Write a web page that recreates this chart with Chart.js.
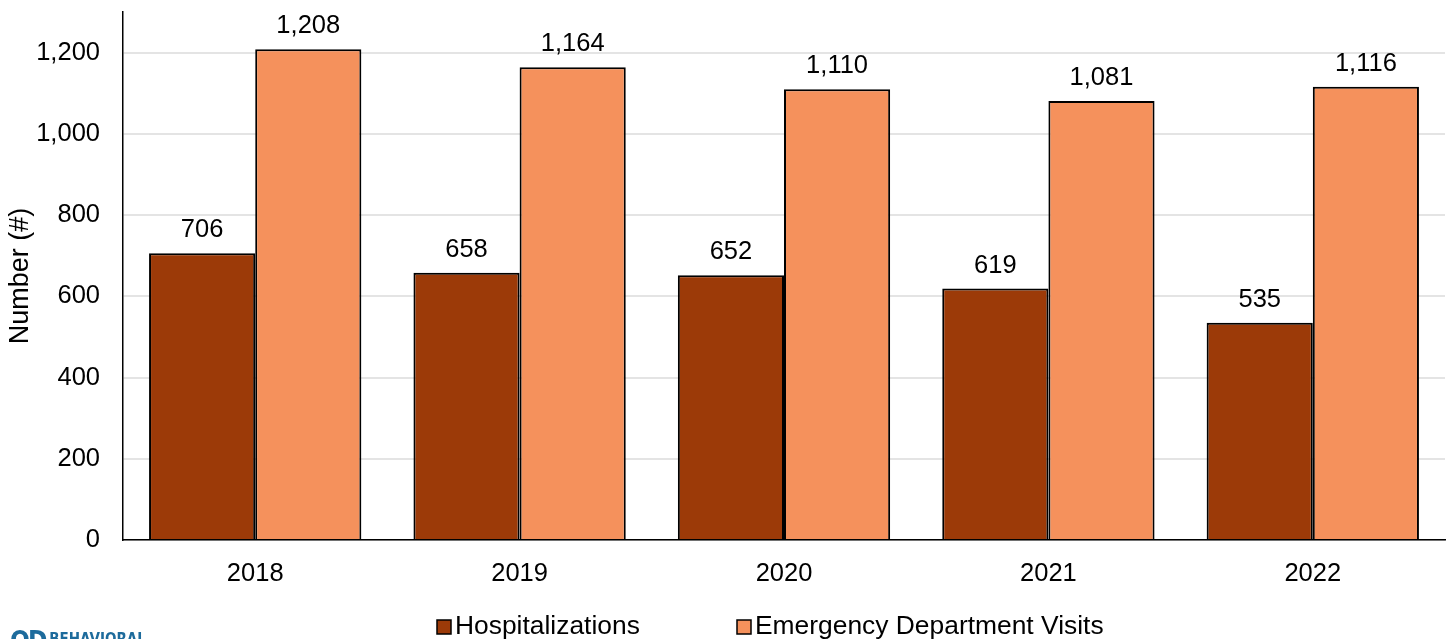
<!DOCTYPE html>
<html>
<head>
<meta charset="utf-8">
<script src="https://cdn.jsdelivr.net/npm/chart.js@4.4.1/dist/chart.umd.min.js"></script>
<style>
  html, body { margin: 0; padding: 0; background: #fff; overflow: hidden; }
  #wrap { position: relative; width: 1452px; height: 639px; }
  #logo { position: absolute; left: 10px; top: 626px; color: #1d6b9c; font-family: "Liberation Sans Narrow", "DejaVu Sans Condensed", sans-serif; font-weight: bold; white-space: nowrap; }
  #logo .big { font-size: 26px; letter-spacing: -2px; vertical-align: top; }
  #logo .small { font-size: 15px; vertical-align: top; margin-left: 4px; position: relative; top: 4px; }
</style>
</head>
<body>
<div id="wrap">
  <canvas id="grafico" width="1452" height="639"></canvas>
  <div id="logo"><span class="big">OD</span><span class="small">BEHAVIORAL</span></div>
</div>
<script>
// Datos
const años = ["2018", "2019", "2020", "2021", "2022"];
const hospitalizaciones = [706, 658, 652, 619, 535];
const visitasUrgencias = [1208, 1164, 1110, 1081, 1116];
const marcasY = [0, 200, 400, 600, 800, 1000, 1200];

const fuente = "'Liberation Sans', Arial, sans-serif";

// Etiquetas sobre cada barra
const etiquetasBarras = {
  id: "etiquetasBarras",
  afterDatasetsDraw(chart) {
    const ctx = chart.ctx;
    ctx.save();
    ctx.font = "25.5px " + fuente;
    ctx.fillStyle = "#000";
    ctx.textAlign = "center";
    ctx.textBaseline = "alphabetic";
    chart.data.datasets.forEach((ds, i) => {
      chart.getDatasetMeta(i).data.forEach((bar, j) => {
        ctx.fillText(ds.data[j].toLocaleString("en-US"), bar.x, bar.y - 16);
      });
    });
    ctx.restore();
  }
};

// Leyenda abajo, dibujada a mano para controlar la separación
const leyenda = {
  id: "leyenda",
  afterDraw(chart) {
    const ctx = chart.ctx;
    const posiciones = [437, 737];
    const yCentro = 627;
    ctx.save();
    ctx.font = "26.4px " + fuente;
    ctx.textBaseline = "middle";
    ctx.textAlign = "left";
    chart.data.datasets.forEach((ds, i) => {
      const x = posiciones[i];
      ctx.fillStyle = ds.backgroundColor;
      ctx.fillRect(x, yCentro - 7, 14, 14);
      ctx.lineWidth = 1.5;
      ctx.strokeStyle = "#000";
      ctx.strokeRect(x, yCentro - 7, 14, 14);
      ctx.fillStyle = "#000";
      ctx.fillText(ds.label, x + 18, yCentro);
    });
    ctx.restore();
  }
};

const ctx = document.getElementById("grafico").getContext("2d");
new Chart(ctx, {
  type: "bar",
  data: {
    labels: años,
    datasets: [
      {
        label: "Hospitalizations",
        data: hospitalizaciones,
        backgroundColor: "#9c3a08",
        borderColor: "#000",
        borderWidth: 2,
        barPercentage: 1,
        categoryPercentage: 0.803
      },
      {
        label: "Emergency Department Visits",
        data: visitasUrgencias,
        backgroundColor: "#f5915c",
        borderColor: "#000",
        borderWidth: 2,
        barPercentage: 1,
        categoryPercentage: 0.803
      }
    ]
  },
  options: {
    responsive: false,
    animation: false,
    layout: { padding: { top: 12, right: 7, left: 0, bottom: 0 } },
    plugins: {
      legend: { display: false },
      tooltip: { enabled: false }
    },
    scales: {
      x: {
        grid: { display: false, drawTicks: false },
        border: { color: "#000", width: 1.5 },
        ticks: { font: { family: fuente, size: 25.5 }, color: "#000", padding: 19 },
        afterFit(scale) { scale.height = 99; }
      },
      y: {
        min: 0,
        max: 1300,
        grid: { color: "#e4e4e4", lineWidth: 2, drawTicks: false },
        border: { color: "#000", width: 1.5 },
        ticks: {
          font: { family: fuente, size: 25.5 },
          color: "#000",
          padding: 23,
          callback: (v) => v.toLocaleString("en-US")
        },
        afterBuildTicks(scale) {
          scale.ticks = marcasY.map((v) => ({ value: v }));
        },
        title: {
          display: true,
          text: "Number (#)",
          font: { family: fuente, size: 27 },
          color: "#000",
          padding: { top: 4, bottom: 0 }
        },
        afterFit(scale) {
          scale.width = 123;
          scale.paddingTop = 0;
          scale.paddingBottom = 0;
        }
      }
    }
  },
  plugins: [etiquetasBarras, leyenda]
});
</script>
</body>
</html>
